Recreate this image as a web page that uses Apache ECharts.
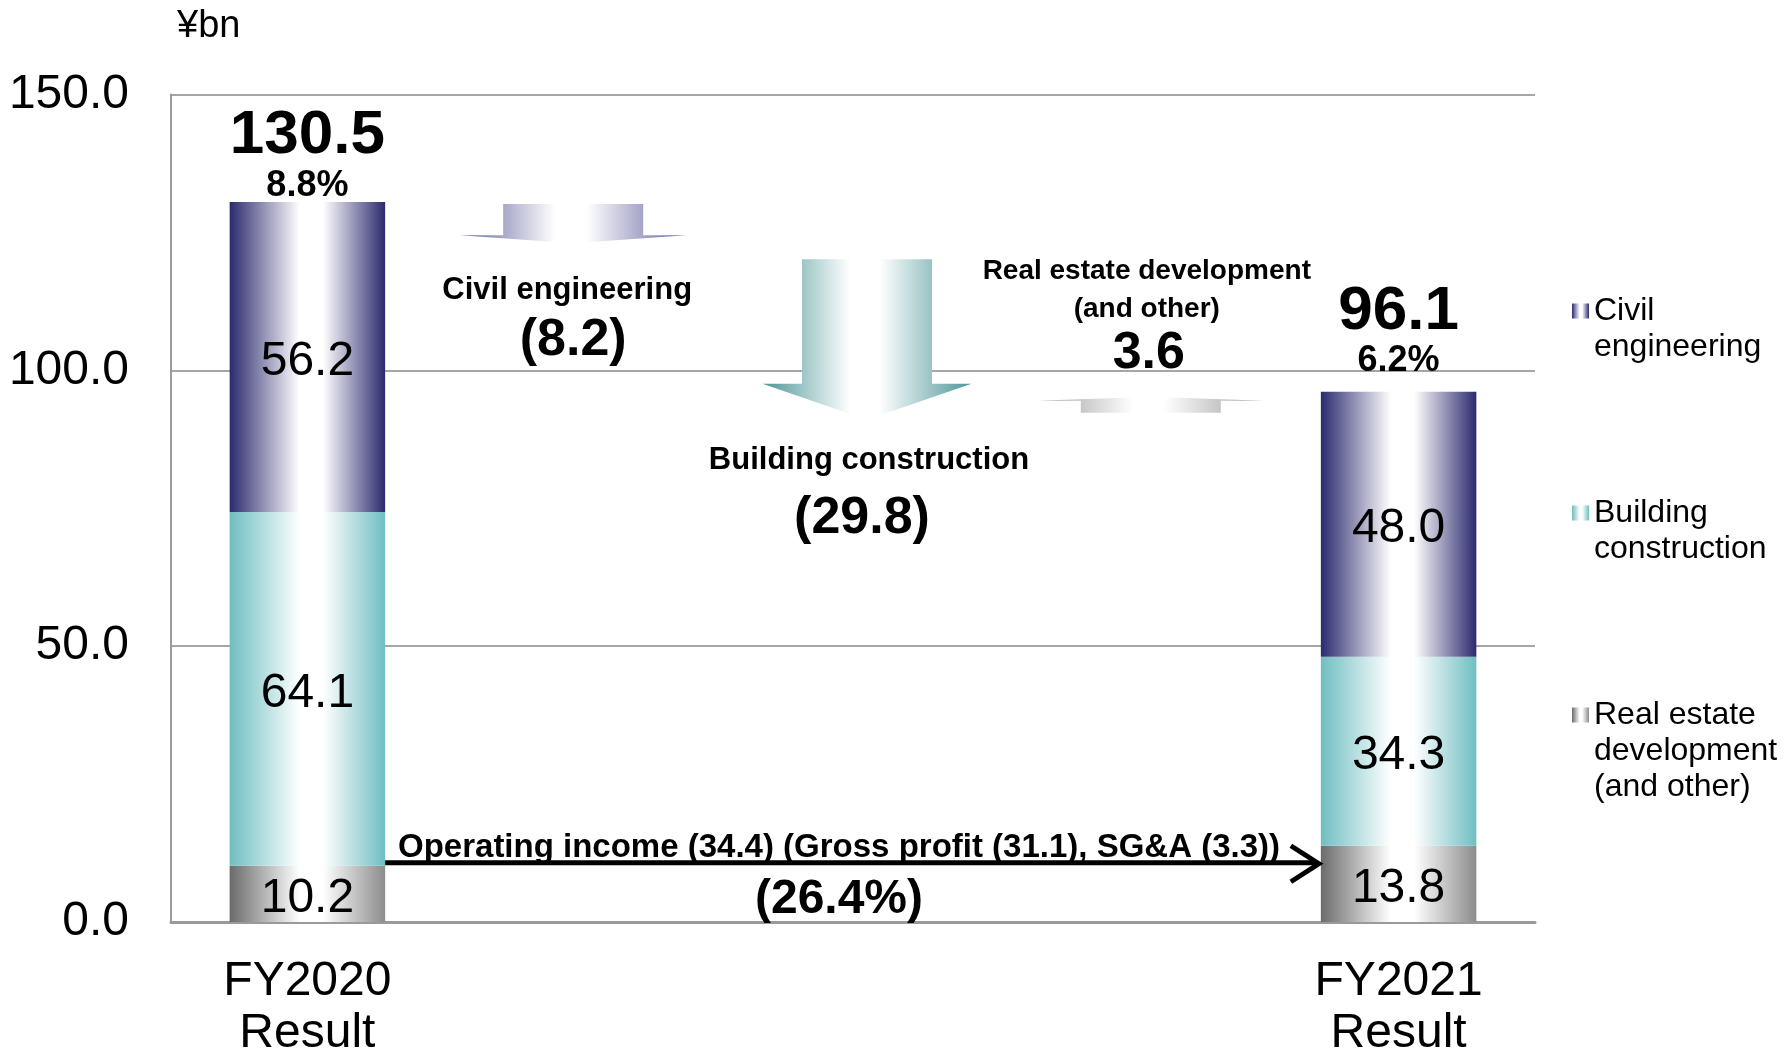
<!DOCTYPE html>
<html>
<head>
<meta charset="utf-8">
<script src="https://cdn.jsdelivr.net/npm/echarts@6/dist/echarts.min.js"></script>
<style>
html,body{margin:0;padding:0;background:#fff;}
#chart{width:1785px;height:1052px;}
</style>
</head>
<body>
<div id="chart"></div>
<script>
// ---------- DATA ----------
const categories = ['FY2020\nResult', '', '', '', 'FY2021\nResult'];
const seriesNames = ['Civil engineering', 'Building construction', 'Real estate development (and other)'];
const legendLabels = [['Civil', 'engineering'], ['Building', 'construction'], ['Real estate', 'development', '(and other)']];
const civilEngineering = [56.2, null, null, null, 48.0];
const buildingConstruction = [64.1, null, null, null, 34.3];
const realEstate = [10.2, null, null, null, 13.8];
const totalCategoryIndex = [0, 4];
const totals = [130.5, 96.1];
const margins = ['8.8%', '6.2%'];
const changeCategoryIndex = [1, 2, 3];
const changeNames = ['Civil engineering', 'Building construction', 'Real estate development\n(and other)'];
const changeValues = [-8.2, -29.8, 3.6];
const changeFrom = [130.5, 122.3, 92.5];
const changeTo = [122.3, 92.5, 96.1];
const opIncomeText = 'Operating income (34.4) (Gross profit (31.1), SG&A (3.3))';
const opIncomeRate = '(26.4%)';
const yTicks = [0, 50, 100, 150];
const unitLabel = '¥bn';

// ---------- STYLE ----------
const FONT = '"Liberation Sans", Arial, Helvetica, sans-serif';
function barGrad(c1, c2) {
  return new echarts.graphic.LinearGradient(0, 0, 1, 0, [
    {offset: 0, color: c1}, {offset: 0.45, color: '#ffffff'},
    {offset: 0.6, color: '#ffffff'}, {offset: 1, color: c2}
  ]);
}
function arrowGrad(c) {
  return new echarts.graphic.LinearGradient(0, 0, 1, 0, [
    {offset: 0, color: c}, {offset: 0.42, color: '#ffffff'},
    {offset: 0.56, color: '#ffffff'}, {offset: 1, color: c}
  ]);
}
const barColors = [barGrad('#2c2a6e', '#2c2a6e'), barGrad('#6fbec2', '#6fbec2'), barGrad('#6b6b6b', '#8c8c8c')];
const arrowColors = ['#5f5f9c', '#4d9597', '#9a9a9a'];
// pixel layout of the change arrows and their texts, relative to the arrow start point
const arrowLayout = [
  {dx: -7, sw: 140, hw: 226, hh: 8, s: 2, e: -4, name: {dx: -13, dy: 88, size: 31, lh: 38}, val: {dx: -7, dy: 139, size: 52}},
  {dx: 14, sw: 130, hw: 209, hh: 36, s: 12, e: 8, name: {dx: 16, dy: 213, size: 31, lh: 38}, val: {dx: 9, dy: 271, size: 52}},
  {dx: 25, sw: 140, hw: 225, hh: 4, s: 1, e: 5, name: {dx: 21, dy: -140, size: 28, lh: 38}, val: {dx: 23, dy: -58, size: 52}}
];
const totalLayout = [{t: -66, m: -16}, {t: -80, m: -31}];

const chart = echarts.init(document.getElementById('chart'), null, {renderer: 'canvas'});

function fmtChange(v) { return v < 0 ? '(' + Math.abs(v).toFixed(1) + ')' : v.toFixed(1); }
// pad legend text to 5 lines so that the icon lines up with the first text line
function legendText(lines) {
  const out = ['', ''].concat(lines);
  while (out.length < 5) out.push('');
  return out.join('\n');
}

const barLabel = {
  show: true, position: 'inside', color: '#000', fontSize: 48, fontFamily: FONT, offset: [0, 5],
  formatter: p => (p.value == null ? '' : Number(p.value).toFixed(1))
};

const option = {
  animation: false,
  backgroundColor: '#fff',
  textStyle: {fontFamily: FONT},
  grid: {left: 171, right: 250, top: 94.5, bottom: 130, containLabel: false, outerBoundsMode: 'none'},
  legend: {
    orient: 'vertical', left: 1567, top: 216, itemWidth: 17, itemHeight: 15, itemGap: 22,
    icon: 'rect', selectedMode: false,
    textStyle: {fontSize: 32, lineHeight: 36, color: '#000', fontFamily: FONT},
    formatter: name => legendText(legendLabels[seriesNames.indexOf(name)]),
    data: seriesNames.slice()
  },
  xAxis: {
    type: 'category', data: categories,
    axisLine: {show: true, lineStyle: {color: '#9a9a9a', width: 3}},
    axisTick: {show: false},
    axisLabel: {interval: 0, fontSize: 48, lineHeight: 52, margin: 34, color: '#000', fontFamily: FONT}
  },
  yAxis: {
    type: 'value', min: yTicks[0], max: yTicks[yTicks.length - 1], interval: 50,
    name: unitLabel, nameLocation: 'end', nameGap: 68,
    nameTextStyle: {fontSize: 38, color: '#000', align: 'left', verticalAlign: 'middle', padding: [0, 0, 0, 6], fontFamily: FONT},
    axisLine: {show: true, lineStyle: {color: '#9a9a9a', width: 2}},
    axisTick: {show: false},
    splitLine: {lineStyle: {color: '#a6a6a6', width: 2}},
    axisLabel: {fontSize: 48, color: '#000', margin: 42, padding: [5, 0, 0, 0], fontFamily: FONT, formatter: v => v.toFixed(1)}
  },
  series: [
    {name: seriesNames[2], type: 'bar', stack: 'total', barWidth: '57%', data: realEstate,
     itemStyle: {color: barColors[2]}, label: barLabel},
    {name: seriesNames[1], type: 'bar', stack: 'total', barWidth: '57%', data: buildingConstruction,
     itemStyle: {color: barColors[1]}, label: barLabel},
    {name: seriesNames[0], type: 'bar', stack: 'total', barWidth: '57%', data: civilEngineering,
     itemStyle: {color: barColors[0]}, label: barLabel},
    // totals + margins above the bars
    {
      name: 'totals', type: 'custom', silent: true, clip: false, z: 5,
      data: totals.map((t, i) => [totalCategoryIndex[i], t]),
      renderItem: function (params, api) {
        const i = params.dataIndex;
        const p = api.coord([api.value(0), api.value(1)]);
        const L = totalLayout[i];
        return {type: 'group', children: [
          {type: 'text', x: p[0], y: p[1] + L.t, style: {text: totals[i].toFixed(1), font: 'bold 62px ' + FONT, fill: '#000', align: 'center', verticalAlign: 'middle'}},
          {type: 'text', x: p[0], y: p[1] + L.m, style: {text: margins[i], font: 'bold 36px ' + FONT, fill: '#000', align: 'center', verticalAlign: 'middle'}}
        ]};
      }
    },
    // change arrows
    {
      name: 'changes', type: 'custom', silent: true, clip: false, z: 4,
      data: changeValues.map((v, i) => [changeCategoryIndex[i], changeFrom[i], changeTo[i]]),
      renderItem: function (params, api) {
        const i = params.dataIndex;
        const L = arrowLayout[i];
        const p0 = api.coord([api.value(0), api.value(1)]);
        const p1 = api.coord([api.value(0), api.value(2)]);
        const cx = p0[0] + L.dx, yS = p0[1] + L.s, yT = p1[1] + L.e;
        const dir = yT > yS ? 1 : -1;
        const yB = yT - dir * L.hh;
        const pts = [[cx - L.sw / 2, yS], [cx + L.sw / 2, yS], [cx + L.sw / 2, yB], [cx + L.hw / 2, yB],
                     [cx, yT], [cx - L.hw / 2, yB], [cx - L.sw / 2, yB]];
        const children = [
          {type: 'polygon', shape: {points: pts}, style: {fill: arrowGrad(arrowColors[i])}}
        ];
        const lines = changeNames[i].split('\n');
        lines.forEach((ln, k) => {
          children.push({type: 'text', x: p0[0] + L.name.dx, y: p0[1] + L.name.dy + k * L.name.lh,
            style: {text: ln, font: 'bold ' + L.name.size + 'px ' + FONT, fill: '#000', align: 'center', verticalAlign: 'middle'}});
        });
        children.push({type: 'text', x: p0[0] + L.val.dx, y: p0[1] + L.val.dy,
          style: {text: fmtChange(changeValues[i]), font: 'bold ' + L.val.size + 'px ' + FONT, fill: '#000', align: 'center', verticalAlign: 'middle'}});
        return {type: 'group', children: children};
      }
    },
    // operating income arrow
    {
      name: 'opincome', type: 'custom', silent: true, clip: false, z: 6,
      data: [[0, 4, realEstate[0]]],
      renderItem: function (params, api) {
        const a = api.coord([api.value(0), api.value(2)]);
        const b = api.coord([api.value(1), api.value(2)]);
        const halfBar = api.size([1, 0])[0] * 0.57 / 2;
        const x0 = a[0] + halfBar, x1 = b[0] - halfBar - 2, y = a[1] - 3;
        const mid = (x0 + x1) / 2;
        return {type: 'group', children: [
          {type: 'line', shape: {x1: x0, y1: y, x2: x1 - 2, y2: y}, style: {stroke: '#000', lineWidth: 5}},
          {type: 'polyline', shape: {points: [[x1 - 28, y - 17], [x1, y + 1], [x1 - 28, y + 19]]},
           style: {stroke: '#000', lineWidth: 5, fill: null, lineJoin: 'miter'}},
          {type: 'text', x: mid - 13, y: y - 15, style: {text: opIncomeText, font: 'bold 33px ' + FONT, fill: '#000', align: 'center', verticalAlign: 'middle'}},
          {type: 'text', x: mid - 13, y: y + 37, style: {text: opIncomeRate, font: 'bold 48px ' + FONT, fill: '#000', align: 'center', verticalAlign: 'middle'}}
        ]};
      }
    }
  ]
};
chart.setOption(option);
</script>
</body>
</html>
